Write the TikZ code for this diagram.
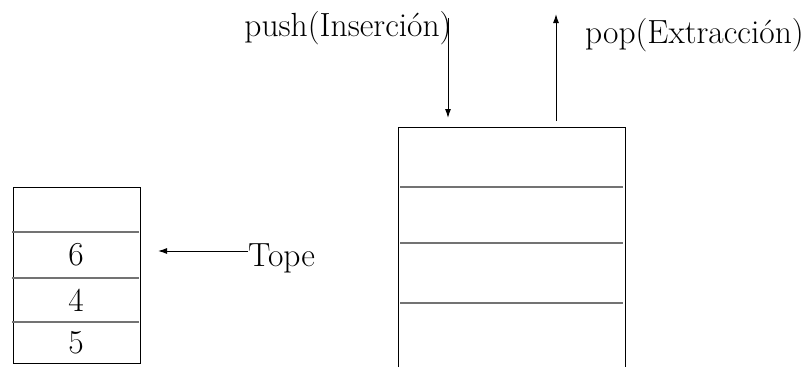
\documentclass[tikz,border=0pt]{standalone}
\usetikzlibrary{arrows.meta}
\begin{document}
\begin{tikzpicture}[x=1pt,y=-1pt,
    frame/.style={line width=1pt,black},
    divider/.style={line width=1.2pt,black!55},
    arr/.style={line width=1pt,-{Latex[length=9pt,width=6pt]}},
    lbl/.style={inner sep=0pt,font=\fontsize{33.5}{40}\selectfont}]
  \useasboundingbox (0,0) rectangle (806,367);

  % small stack with values
  \draw[frame] (13,187) rectangle (140,363);
  \draw[divider] (12,232) -- (139,232);
  \draw[divider] (12,278) -- (139,278);
  \draw[divider] (12,322) -- (139,322);
  \node[lbl] (v6) at (76,255) {6};
  \node[lbl] (v4) at (76,300) {4};
  \node[lbl] (v5) at (76,343) {5};

  % pointer to the top element
  \node[lbl,anchor=west] (tope) at (248,258) {Tope};
  \coordinate (topetip) at (158,251);
  \draw[arr] (tope.west |- topetip) -- (topetip);

  % large open-bottom stack
  \draw[frame] (398,367) -- (398,127) -- (625,127) -- (625,367);
  \draw[divider] (400,187) -- (623,187);
  \draw[divider] (400,243) -- (623,243);
  \draw[divider] (400,303) -- (623,303);

  % push and pop operations
  \node[lbl] (push) at (348,28) {push(Inserción)};
  \node[lbl,anchor=east] (pop) at (804,35) {pop(Extracción)};
  \coordinate (pushstart) at (448,18);
  \coordinate (pushend) at (448,118);
  \coordinate (popstart) at (556,121);
  \coordinate (popend) at (556,14);
  \draw[arr] (pushstart) -- (pushend);
  \draw[arr] (popstart) -- (popend);
\end{tikzpicture}
\end{document}
